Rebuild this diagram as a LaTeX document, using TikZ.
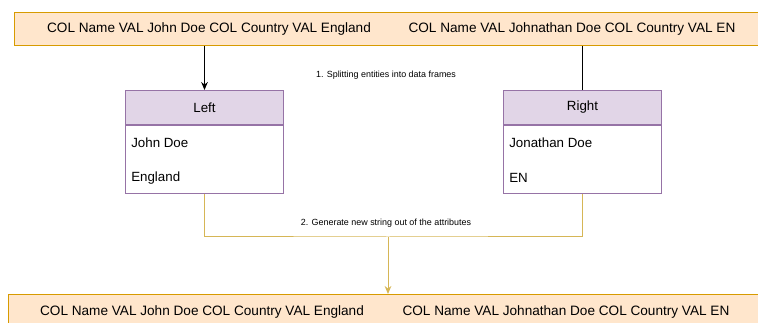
\documentclass[tikz,border=0pt]{standalone}
\usepackage{fontspec}
\setmainfont{Liberation Sans}
\usetikzlibrary{arrows.meta,positioning}

\definecolor{strfill}{HTML}{FFE6CC}
\definecolor{strline}{HTML}{D79B00}
\definecolor{headfill}{HTML}{E1D5E7}
\definecolor{headline}{HTML}{9673A6}
\definecolor{genline}{HTML}{D6B656}

\tikzset{
  strbox/.style={draw=strline, fill=strfill, line width=0.75pt, inner sep=0pt, anchor=north west},
  strtext/.style={font=\fontsize{10.2}{12}\selectfont, inner sep=0pt},
  tabhead/.style={draw=headline, fill=headfill, line width=0.75pt, inner sep=0pt,
    minimum width=118.5pt, minimum height=25.5pt, font=\fontsize{10}{12}\selectfont},
  tabbody/.style={draw=headline, fill=white, line width=0.75pt, inner sep=0pt,
    minimum width=118.5pt, minimum height=51pt},
  tabitem/.style={font=\fontsize{10}{12}\selectfont, inner sep=0pt, anchor=west},
  steplabel/.style={font=\fontsize{6.7}{8}\selectfont, inner sep=0pt},
}

\begin{document}
\begin{tikzpicture}[x=0.75pt, y=-0.75pt]

    % page frame
    \useasboundingbox (0,0) rectangle (758,323);

    % input strings
    \node[strbox, minimum width=567pt, minimum height=24.75pt] (input) at (14,12) {};
    \node[strtext] (inleft) at (209,29) {COL Name VAL John Doe COL Country VAL England};
    \node[strtext] (inright) at (572,29) {COL Name VAL Johnathan Doe COL Country VAL EN};

    % left data frame
    \node[tabhead, anchor=north west] (lhead) at (125,90) {Left};
    \node[tabbody, below=0pt of lhead] (lbody) {};
    \node[tabitem] (lname) at (131,143) {John Doe};
    \node[tabitem] (lcountry) at (131,178) {England};

    % right data frame
    \node[tabhead, anchor=north west] (rhead) at (503,90) {Right};
    \node[tabbody, below=0pt of rhead] (rbody) {};
    \node[tabitem] (rname) at (509,143) {Jonathan Doe};
    \node[tabitem] (rcountry) at (509,178) {EN};

    % splitting
    \draw[line width=0.75pt, -{Stealth[length=6pt, width=5pt]}] (lhead.north |- input.south) -- (lhead.north);
    \draw[line width=0.75pt] (rhead.north |- input.south) -- (rhead.north);
    \node[steplabel] (split) at (386,75) {1. Splitting entities into data frames};

    % output strings
    \node[strbox, minimum width=570pt, minimum height=30pt] (output) at (8,294) {};
    \node[strtext] (outleft) at (202,312) {COL Name VAL John Doe COL Country VAL England};
    \node[strtext] (outright) at (566,312) {COL Name VAL Johnathan Doe COL Country VAL EN};

    % generating
    \coordinate (join) at (388,237);
    \draw[genline, line width=0.75pt] (lbody.south) |- (join) -| (rbody.south);
    \draw[genline, line width=0.75pt, -{Stealth[length=6pt, width=5pt]}] (join) -- (join |- output.north);
    \node[steplabel] (gen) at (386,223) {2. Generate new string out of the attributes};

\end{tikzpicture}
\end{document}
